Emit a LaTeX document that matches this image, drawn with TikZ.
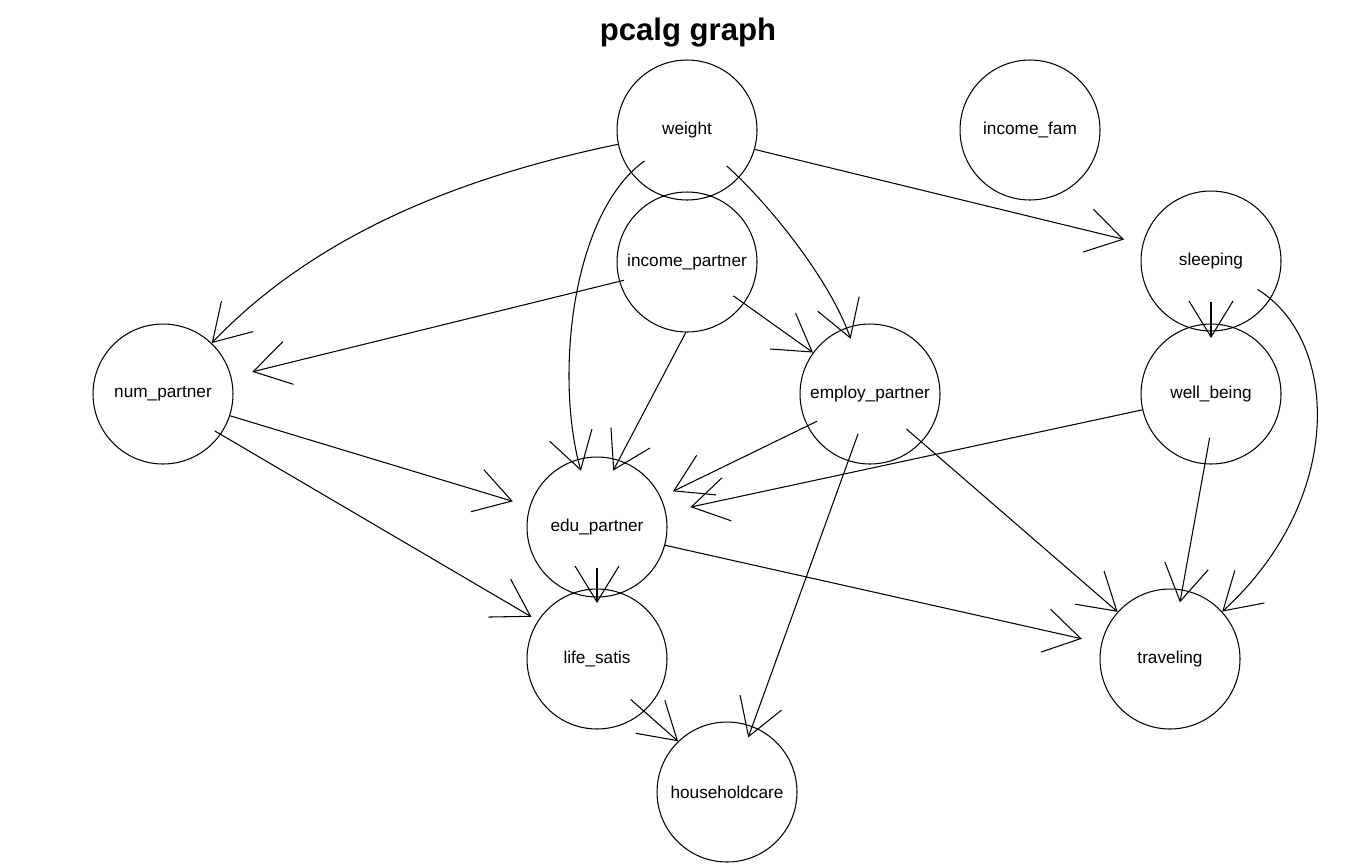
\documentclass[tikz,border=0pt]{standalone}
\usepackage{fontspec}
\setmainfont{Liberation Sans}
\usetikzlibrary{arrows.meta,calc}

\tikzset{
  vtx/.style={circle, draw, line width=0.6pt, minimum size=2.8cm, inner sep=0pt,
    font=\fontsize{9.8}{12}\selectfont},
  arr/.style={-{Straight Barb[length=0.72cm,width=0.88cm]}, line width=0.6pt}
}

\begin{document}
\begin{tikzpicture}[x=0.02cm, y=-0.02cm]
    \useasboundingbox (0,0) rectangle (1358,866);

    % Title
    \node[font=\fontsize{17.7}{20}\selectfont\bfseries] (title) at (688,33) {pcalg graph};

    % Define nodes
    \node[vtx] (weight) at (687,130) {weight};
    \node[vtx] (incfam) at (1030,130) {income\_fam};
    \node[vtx] (incpartner) at (687,262) {income\_partner};
    \node[vtx] (sleeping) at (1211,261) {sleeping};
    \node[vtx] (numpartner) at (163,394) {num\_partner};
    \node[vtx] (employ) at (870,394) {employ\_partner};
    \node[vtx] (wellbeing) at (1211,394) {well\_being};
    \node[vtx] (edu) at (597,527) {edu\_partner};
    \node[vtx] (life) at (597,659) {life\_satis};
    \node[vtx] (traveling) at (1170,659) {traveling};
    \node[vtx] (household) at (727,792) {householdcare};

    % Curved edges
    \draw[arr] (weight) .. controls (470,175) and (320,230) .. (numpartner);
    \draw[arr, shorten <=-0.36cm, shorten >=-0.24cm] (weight) .. controls (570,215) and (555,380) .. (edu);
    \draw[arr, shorten <=-0.34cm, shorten >=-0.24cm] (weight) .. controls (770,205) and (830,280) .. (employ);
    \draw[arr, shorten <=-0.32cm] (sleeping) .. controls (1340,340) and (1345,500) .. (traveling);

    % Straight edges
    \draw[arr, shorten >=0.38cm] (weight.-16) -- (sleeping.166);
    \draw[arr, shorten <=-0.1cm, shorten >=0.43cm] (incpartner.196) -- (numpartner.14);
    \draw[arr, shorten >=-0.24cm] (incpartner.269) -- (edu.72);
    \draw[arr, shorten <=-0.26cm] (incpartner.-36) -- (employ.144);
    \draw[arr, shorten >=0.35cm] (numpartner.-18) -- (edu.163);
    \draw[arr, shorten <=-0.14cm, shorten >=0.15cm] (numpartner.-35) -- (life.147);
    \draw[arr, shorten <=-0.22cm, shorten >=0.27cm] (employ.207) -- (edu.25);
    \draw[arr, shorten <=-0.58cm, shorten >=-0.24cm] (employ.252) -- (household.69);
    \draw[arr, shorten <=-0.4cm] (employ.-43) -- (traveling.138);
    \draw[arr, shorten >=0.5cm] (wellbeing.193) -- (edu.12);
    \draw[arr, shorten <=-0.54cm, shorten >=-0.26cm] (wellbeing.265) -- (traveling.80);
    \draw[arr, shorten >=0.4cm] (edu.-15) -- (traveling.167);
    \draw[arr, shorten <=-0.36cm] (life.-48) -- (household.134);

    % Short edges between overlapping circles
    \draw[arr] ($(sleeping.center)+(0,41)$) -- ($(wellbeing.center)+(0,-56)$);
    \draw[arr] ($(edu.center)+(0,41)$) -- ($(life.center)+(0,-56)$);

\end{tikzpicture}
\end{document}
